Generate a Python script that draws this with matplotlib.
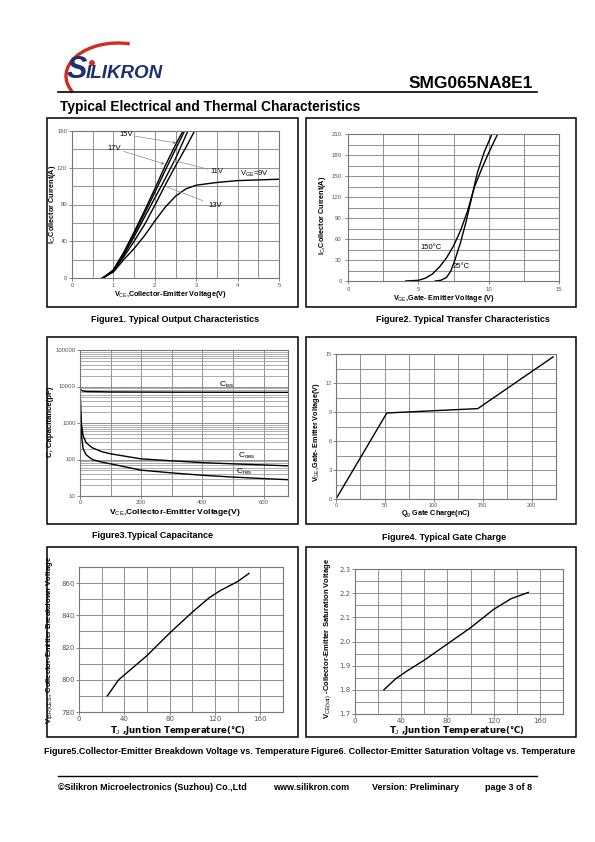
import matplotlib
matplotlib.use('Agg')
import matplotlib.pyplot as plt
from matplotlib.ticker import MultipleLocator, LogLocator, NullFormatter, FixedLocator
from matplotlib.patches import Rectangle, Arc, Circle

plt.rcParams['font.family'] = ['Liberation Sans', 'DejaVu Sans']
plt.rcParams['mathtext.fontset'] = 'custom'
plt.rcParams['mathtext.rm'] = 'Liberation Sans'
plt.rcParams['mathtext.default'] = 'rm'

W, H = 595, 842

# Figure1 output characteristics (Vce in V, Ic in A)
vce_17 = [0.75, 1.0, 1.25, 1.5, 1.75, 2.0, 2.25, 2.5, 2.68]
ic_17 = [0, 9, 28, 50, 73, 97, 122, 145, 160]
vce_15 = [0.75, 1.0, 1.25, 1.5, 1.75, 2.0, 2.25, 2.5, 2.72]
ic_15 = [0, 8.5, 27, 48, 70, 93, 117, 140, 160]
vce_13 = [0.75, 1.0, 1.25, 1.5, 1.75, 2.0, 2.25, 2.5, 2.8]
ic_13 = [0, 8, 25, 45, 66, 87, 108, 130, 160]
vce_11 = [0.75, 1.0, 1.25, 1.5, 1.75, 2.0, 2.25, 2.5, 2.75, 2.96]
ic_11 = [0, 7.5, 23, 40, 58, 79, 101, 122, 142, 160]
vce_9 = [0.72, 1.0, 1.25, 1.5, 1.75, 2.0, 2.25, 2.5, 2.75, 3.0, 3.5, 4.0, 5.0]
ic_9 = [0, 6.5, 20, 32, 46, 62, 77, 89, 97, 101, 104, 106, 107.5]

# Figure2 transfer characteristics
vge_25 = [6.2, 6.6, 7.0, 7.3, 7.6, 8.0, 8.4, 8.8, 9.2, 9.7, 10.24]
ic_25 = [0, 1, 5, 14, 30, 55, 85, 120, 155, 185, 210]
vge_150 = [4.1, 5.0, 5.5, 6.0, 6.5, 7.0, 7.5, 8.0, 8.5, 9.0, 9.5, 10.0, 10.64]
ic_150 = [0, 1, 4, 10, 20, 33, 50, 72, 100, 135, 160, 183, 210]

# Figure3 capacitance (pF)
v_ciss = [0, 2, 5, 10, 20, 100, 300, 500, 680]
ciss = [9000, 8200, 7800, 7500, 7300, 7100, 7000, 6950, 6900]
v_coes = [1, 2, 3, 5, 10, 20, 40, 70, 100, 200, 300, 400, 500, 600, 680]
coes = [6000, 3000, 1800, 900, 450, 290, 210, 165, 143, 104, 92, 82, 76, 71, 67]
v_cres = [1, 2, 3, 5, 10, 20, 40, 70, 100, 200, 300, 400, 500, 600, 680]
cres = [5000, 2000, 1000, 450, 200, 135, 100, 85, 76, 51, 43, 37, 33, 30, 28]

# Figure4 gate charge
qg = [0, 52, 145, 222]
vge_q = [0, 8.9, 9.35, 14.7]

# Figure5 breakdown voltage vs Tj
tj5 = [25, 35, 45, 60, 80, 100, 115, 125, 140, 150]
vbr = [790, 800, 806, 815, 829, 842, 851, 855.5, 861, 866]

# Figure6 saturation voltage vs Tj
tj6 = [25, 35, 45, 60, 80, 100, 120, 135, 150]
vsat = [1.80, 1.845, 1.878, 1.923, 1.99, 2.057, 2.133, 2.177, 2.203]

fig = plt.figure(figsize=(W / 100, H / 100), dpi=100)
bg = fig.add_axes([0, 0, 1, 1])
bg.set_xlim(0, W)
bg.set_ylim(H, 0)
bg.axis('off')


def panel(l, r, t, b):
    return fig.add_axes([l / W, 1 - b / H, (r - l) / W, (b - t) / H])


def style(ax, xmaj, xmin, ymaj, ymin, size=4.3, fam=None, pad=1.5):
    ax.xaxis.set_major_locator(MultipleLocator(xmaj))
    ax.xaxis.set_minor_locator(MultipleLocator(xmin))
    if ymaj is not None:
        ax.yaxis.set_major_locator(MultipleLocator(ymaj))
        ax.yaxis.set_minor_locator(MultipleLocator(ymin))
    ax.grid(which='both', color='#808080', lw=0.6)
    ax.set_axisbelow(True)
    ax.tick_params(which='minor', length=0)
    ax.tick_params(which='major', length=2, width=0.5, labelsize=size,
                   colors='#555555', pad=pad)
    for s in ax.spines.values():
        s.set_color('#777777')
        s.set_linewidth(0.8)
    if fam:
        for lb in ax.get_xticklabels() + ax.get_yticklabels():
            lb.set_family(fam)


# page header
bg.add_patch(Arc((118, 76), 104, 66, theta1=160, theta2=290, color='#d42a20', lw=2.4))
bg.text(67, 78, 'S', fontsize=22, fontweight='bold', style='italic', color='#1d2f6f', va='baseline')
bg.text(86, 78, 'ILIKRON', fontsize=13.5, fontweight='bold', style='italic', color='#1d2f6f', va='baseline')
bg.add_patch(Circle((92, 63), 2.2, color='#d42a20'))
bg.text(533, 83, 'SMG065NA8E1', fontsize=12.5, fontweight='bold', ha='right', va='center')
bg.plot([58, 537], [92, 92], color='black', lw=1.2)
bg.text(60, 107, 'Typical Electrical and Thermal Characteristics', fontsize=9.9,
        fontweight='bold', va='center')

# frames
for l, r, t, b in [(47, 298, 118, 307), (306, 576, 118, 307),
                   (47, 298, 337, 524), (306, 576, 337, 524),
                   (47, 298, 547, 737), (306, 576, 547, 737)]:
    bg.add_patch(Rectangle((l, t), r - l, b - t, fill=False, ec='black', lw=1.1))

# Figure1
ax1 = panel(72, 279, 131, 278)
for vx, iy in [(vce_17, ic_17), (vce_15, ic_15), (vce_13, ic_13), (vce_11, ic_11), (vce_9, ic_9)]:
    ax1.plot(vx, iy, color='black', lw=1)
ax1.set_xlim(0, 5)
ax1.set_ylim(0, 160)
style(ax1, 1, 0.5, 40, 20)
arr = dict(arrowstyle='-|>', color='#888888', lw=0.5, mutation_scale=4, shrinkA=0, shrinkB=0)
ax1.annotate('15V', xy=(2.52, 147), xytext=(1.3, 156), fontsize=5.5, ha='center', va='center', arrowprops=arr)
ax1.annotate('17V', xy=(2.24, 124), xytext=(1.02, 141), fontsize=5.5, ha='center', va='center', arrowprops=arr)
ax1.annotate('11V', xy=(2.44, 128), xytext=(3.5, 116), fontsize=5.5, ha='center', va='center', arrowprops=arr)
ax1.annotate('13V', xy=(2.24, 100), xytext=(3.46, 79), fontsize=5.5, ha='center', va='center',
             arrowprops=dict(arrowstyle='-', color='#888888', lw=0.5))
ax1.text(4.4, 113, 'V$_{GE}$=9V', fontsize=5.5, ha='center', va='center')
bg.text(170, 295, 'V$_{CE}$,Collector-Emitter Voltage(V)', fontsize=5.2, fontweight='bold', ha='center', va='center')
bg.text(53, 204, 'I$_C$,Collector Current(A)', fontsize=5.2, fontweight='bold', ha='center', va='center', rotation=90)
bg.text(175, 320, 'Figure1. Typical Output Characteristics', fontsize=6.5, fontweight='bold', ha='center', va='center')

# Figure2
ax2 = panel(348, 559, 134, 281)
ax2.plot(vge_25, ic_25, color='black', lw=1)
ax2.plot(vge_150, ic_150, color='black', lw=1)
ax2.set_xlim(0, 15)
ax2.set_ylim(0, 210)
style(ax2, 5, 2.5, 30, 15, pad=2.5)
ax2.text(5.9, 48, '150°C', fontsize=5.5, ha='center', va='center')
ax2.text(8.05, 21, '25°C', fontsize=5.5, ha='center', va='center')
bg.text(444, 298, 'V$_{GE}$,Gate- Emitter Voltage (V)', fontsize=5.2, fontweight='bold', ha='center', va='center')
bg.text(322, 215, 'I$_C$,Collector Current(A)', fontsize=5.2, fontweight='bold', ha='center', va='center', rotation=90)
bg.text(463, 320, 'Figure2. Typical Transfer Characteristics', fontsize=6.5, fontweight='bold', ha='center', va='center')

# Figure3
ax3 = panel(80, 288, 350, 496)
ax3.plot(v_ciss, ciss, color='black', lw=1)
ax3.plot(v_coes, coes, color='black', lw=1)
ax3.plot(v_cres, cres, color='black', lw=1)
ax3.set_yscale('log')
ax3.set_xlim(0, 680)
ax3.set_ylim(10, 100000)
style(ax3, 200, 100, None, None, pad=1.2)
ax3.yaxis.set_major_locator(FixedLocator([10, 100, 1000, 10000, 100000]))
ax3.yaxis.set_minor_locator(LogLocator(base=10, subs=range(2, 10)))
ax3.yaxis.set_minor_formatter(NullFormatter())
ax3.set_yticklabels(['10', '100', '1000', '10000', '100000'])
ax3.grid(which='minor', axis='y', color='#a0a0a0', lw=0.6)
ax3.tick_params(which='minor', length=0)
ax3.text(480, 10800, 'C$_{iss}$', fontsize=6, ha='center', va='center')
ax3.text(546, 125, 'C$_{oes}$', fontsize=6, ha='center', va='center')
ax3.text(535, 46, 'C$_{res}$', fontsize=6, ha='center', va='center')
bg.text(175, 512, 'V$_{CE}$,Collector-Emitter Voltage(V)', fontsize=6.1, fontweight='bold', ha='center', va='center')
bg.text(51, 422, 'C, Capacitance(pF)', fontsize=5.6, fontweight='bold', ha='center', va='center', rotation=90)
bg.text(152, 535, 'Figure3.Typical Capacitance', fontsize=6.5, fontweight='bold', ha='center', va='center')

# Figure4
ax4 = panel(336, 556, 354, 499)
ax4.plot(qg, vge_q, color='black', lw=1)
ax4.set_xlim(0, 225)
ax4.set_ylim(0, 15)
style(ax4, 50, 25, 3, 1.5, size=4, pad=1)
bg.text(436, 513.5, 'Q$_g$ Gate Charge(nC)', fontsize=5.2, fontweight='bold', ha='center', va='center')
bg.text(316, 432, 'V$_{GE}$,Gate- Emitter Voltage(V)', fontsize=5.2, fontweight='bold', ha='center', va='center', rotation=90)
bg.text(444, 537, 'Figure4. Typical Gate Charge', fontsize=6.5, fontweight='bold', ha='center', va='center')

# Figure5
ax5 = panel(79, 283, 567, 712)
ax5.plot(tj5, vbr, color='black', lw=1)
ax5.set_xlim(0, 180)
ax5.set_ylim(780, 870)
style(ax5, 40, 20, 20, 10, size=5, fam='DejaVu Sans', pad=1)
bg.text(178, 730.5, 'T$_J$ ,Juntion Temperature(°C)', fontsize=6.2, fontweight='bold', family='DejaVu Sans', ha='center', va='center')
bg.text(50, 640, 'V$_{(BR)CES}$, Collector-Emitter Breakdown Voltage', fontsize=5.5, fontweight='bold', ha='center', va='center', rotation=90)
bg.text(177, 752, 'Figure5.Collector-Emitter Breakdown Voltage vs. Temperature', fontsize=6.5, fontweight='bold', ha='center', va='center')

# Figure6
ax6 = panel(355, 563, 569, 714)
ax6.plot(tj6, vsat, color='black', lw=1)
ax6.set_xlim(0, 180)
ax6.set_ylim(1.7, 2.3)
style(ax6, 40, 20, 0.1, 0.05, size=5, fam='DejaVu Sans', pad=1)
bg.text(457, 730.5, 'T$_J$ ,Juntion Temperature(°C)', fontsize=6.2, fontweight='bold', family='DejaVu Sans', ha='center', va='center')
bg.text(328, 638, 'V$_{CE(sat)}$ -Collector-Emitter Saturation Voltage', fontsize=5.5, fontweight='bold', ha='center', va='center', rotation=90)
bg.text(443, 752, 'Figure6. Collector-Emitter Saturation Voltage vs. Temperature', fontsize=6.5, fontweight='bold', ha='center', va='center')

# footer
bg.plot([58, 537], [776, 776], color='black', lw=1)
bg.text(58, 787, '©Silikron Microelectronics (Suzhou) Co.,Ltd', fontsize=6.5, fontweight='bold', va='center')
bg.text(273, 787, 'www.silikron.com', fontsize=6.5, fontweight='bold', va='center')
bg.text(372, 787, 'Version: Preliminary', fontsize=6.5, fontweight='bold', va='center')
bg.text(485, 787, 'page 3 of 8', fontsize=6.5, fontweight='bold', va='center')

fig.savefig('out.png', dpi=100)
